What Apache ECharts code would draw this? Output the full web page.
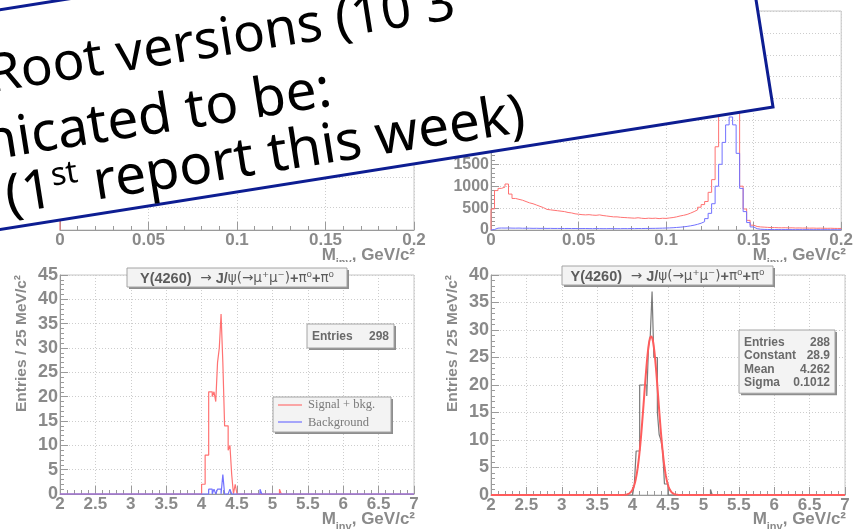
<!DOCTYPE html>
<html>
<head>
<meta charset="utf-8">
<title>Y(4260) → J/ψ π0 π0</title>
<script src="https://cdn.jsdelivr.net/npm/echarts@6.0.0/dist/echarts.min.js"></script>
<style>
  html, body { margin: 0; padding: 0; background: #ffffff; }
  #chart { width: 856px; height: 529px; }
</style>
</head>
<body>
<div id="chart"></div>
<script>
// ---------------- data ----------------
// γγ invariant mass, 2 MeV/c² bins over 0 … 0.2 GeV/c²
const PI0_MIN = 0, PI0_MAX = 0.2, PI0_BIN = 0.002;

// right panel: signal + background (red) and background only (blue)
const pi0SignalBkg = [
  480, 900, 950, 980, 1050, 820, 720, 700, 680, 650,
  620, 600, 570, 540, 510, 470, 460, 450, 440, 430,
  420, 400, 390, 370, 360, 350, 345, 350, 340, 335,
  345, 330, 320, 310, 300, 300, 290, 285, 280, 275,
  270, 280, 268, 262, 270, 265, 270, 260, 268, 265,
  275, 285, 300, 320, 335, 355, 385, 420, 460, 520,
  580, 650, 860, 1150, 1900, 3000, 3700, 4200, 4400, 4150,
  3000, 1000, 480, 220, 110, 80, 70, 65, 60, 55,
  55, 52, 50, 52, 48, 50, 45, 47, 44, 45,
  42, 44, 40, 42, 40, 38, 40, 37, 36, 35
];
const pi0Background = [
  12, 42, 45, 44, 46, 43, 42, 44, 40, 41,
  40, 38, 39, 37, 38, 36, 37, 35, 36, 35,
  34, 35, 33, 34, 32, 33, 34, 32, 31, 33,
  32, 30, 31, 32, 30, 31, 30, 32, 31, 33,
  32, 34, 33, 35, 36, 37, 38, 40, 42, 45,
  48, 52, 58, 64, 72, 82, 95, 110, 130, 155,
  190, 260, 380, 600, 1000, 1500, 2000, 2400, 2580, 2400,
  1750, 950, 420, 170, 70, 30, 18, 14, 12, 11,
  10, 10, 9, 10, 9, 9, 8, 9, 8, 8,
  8, 7, 8, 7, 7, 7, 6, 7, 6, 6
];

// left panel (other version, log scale): first bin only, the rest is empty
const pi0OldEdges  = [0.000];
const pi0OldCounts = [2000000];
const PI0_OLD_LOG_MIN = 0.171, PI0_OLD_LOG_MAX = 3.4e6;

// J/ψ π0 π0 invariant mass, 25 MeV/c² bins over 2 … 7 GeV/c²
const Y_MIN = 2, Y_MAX = 7, Y_BIN = 0.025;

const ySigEdges  = [4.000, 4.025, 4.050, 4.075, 4.100, 4.125, 4.150, 4.175, 4.200, 4.225,
                    4.250, 4.275, 4.300, 4.325, 4.350, 4.375, 4.400, 4.425, 4.475, 5.100];
const ySigCounts = [2, 2, 8, 8, 21, 21, 20, 21, 19, 27,
                    30, 37, 27, 14, 14, 9, 10, 4, 2, 1];

const yBkgEdges  = [4.100, 4.125, 4.175, 4.225, 4.250, 4.300, 4.400, 4.825];
const yBkgCounts = [1, 1, 1, 1, 1, 4, 1, 1];

const yFitEdges  = [4.025, 4.050, 4.075, 4.100, 4.125, 4.150, 4.175, 4.200, 4.225, 4.250,
                    4.275, 4.300, 4.325, 4.350, 4.375, 4.400, 4.425, 4.450, 4.475, 5.100];
const yFitCounts = [2, 8, 8, 20, 20, 20, 20, 18, 27, 29,
                    37, 25, 25, 15, 11, 10, 8, 2, 2, 1];

// Gaussian fit parameters (stats box)
const FIT_CONSTANT = 28.9, FIT_MEAN = 4.262, FIT_SIGMA = 0.1012;

const statsLeft  = [['Entries', '298']];
const statsRight = [['Entries', '288'], ['Constant', '28.9'], ['Mean', '4.262'], ['Sigma', '0.1012']];

const decayTitle = ['Y(4260)', '  → ', 'J/', 'ψ(→μ⁺μ⁻)', '+', 'π⁰', '+', 'π⁰'];
const legendLabels = ['Signal + bkg.', 'Background'];
const slideLines = ['PandaRoot versions (10 3', 'communicated to be:', '(1', 'st', ' report this week)'];

// ---------------- helpers ----------------
function fillBins(min, max, bw, edges, counts, empty) {
  const n = Math.round((max - min) / bw);
  const arr = new Array(n).fill(empty);
  edges.forEach((e, k) => { arr[Math.round((e - min) / bw)] = counts[k]; });
  return arr;
}
// histogram outline: rises from the baseline at the low edge, then one flat step per bin
function stepData(min, bw, arr, base) {
  const pts = [[min, base]];
  arr.forEach((v, i) => pts.push([+(min + i * bw).toFixed(4), v]));
  pts.push([+(min + arr.length * bw).toFixed(4), arr[arr.length - 1]]);
  return pts;
}
function gaussCurve(min, max, step) {
  const pts = [];
  const n = Math.round((max - min) / step);
  for (let i = 0; i <= n; i++) {
    const x = min + i * step;
    const z = (x - FIT_MEAN) / FIT_SIGMA;
    pts.push([+x.toFixed(4), FIT_CONSTANT * Math.exp(-0.5 * z * z)]);
  }
  return pts;
}

// ---------------- styles ----------------
const SANS = 'Liberation Sans, Arial, Helvetica, sans-serif';
const AXIS_GREY = '#9a9a9a';
const TEXT_GREY = '#8a8a8a';
const RED = '#ff7272';
const BLUE = '#7272ff';
const plain = v => String(v);

function xAxis(gridIndex, min, max, interval) {
  return {
    type: 'value', gridIndex, min, max, interval,
    axisLine: { onZero: false, lineStyle: { color: AXIS_GREY, width: 1 } },
    axisTick: { inside: true, length: 8, lineStyle: { color: AXIS_GREY } },
    minorTick: { show: true, splitNumber: 5, length: 4, lineStyle: { color: AXIS_GREY } },
    splitLine: { show: true, lineStyle: { color: '#cdcdcd', type: [1, 2] } },
    axisLabel: { color: TEXT_GREY, fontFamily: SANS, fontWeight: 'bold', fontSize: 17, margin: 2,
                 showMinLabel: true, showMaxLabel: true, formatter: plain }
  };
}
function yAxis(gridIndex, min, max, interval, fontSize, showLabels) {
  return {
    type: 'value', gridIndex, min, max, interval,
    axisLine: { show: true, onZero: false, lineStyle: { color: AXIS_GREY, width: 1 } },
    axisTick: { show: true, inside: true, length: 8, lineStyle: { color: AXIS_GREY } },
    minorTick: { show: true, splitNumber: 5, length: 4, lineStyle: { color: AXIS_GREY } },
    splitLine: { show: true, lineStyle: { color: '#cdcdcd', type: [1, 2] } },
    axisLabel: { show: showLabels, color: TEXT_GREY, fontFamily: SANS, fontWeight: 'bold', fontSize: fontSize, margin: 2,
                 showMinLabel: true, showMaxLabel: true, formatter: plain }
  };
}
function hist(xi, data, color, width, clip) {
  return {
    type: 'line', xAxisIndex: xi, yAxisIndex: xi, data, step: 'end',
    symbol: 'none', clip: clip, animation: false, connectNulls: false,
    lineStyle: { color, width: width || 1 }
  };
}

// ---------------- panels ----------------
const frame = { show: true, borderColor: '#c6c6c6', borderWidth: 1, backgroundColor: 'transparent' };
const grids = [
  Object.assign({ left: 60,  top: 11,  width: 354, height: 219 }, frame),
  Object.assign({ left: 491, top: 11,  width: 354, height: 219 }, frame),
  Object.assign({ left: 60,  top: 275, width: 354, height: 219 }, frame),
  Object.assign({ left: 491, top: 275, width: 354, height: 220 }, frame)
];

const series = [
  hist(0, stepData(PI0_MIN, PI0_BIN, fillBins(PI0_MIN, PI0_MAX, PI0_BIN, pi0OldEdges, pi0OldCounts, null), PI0_OLD_LOG_MIN), RED, 1, true),
  hist(1, stepData(PI0_MIN, PI0_BIN, pi0SignalBkg, 0), RED, 1, true),
  hist(1, stepData(PI0_MIN, PI0_BIN, pi0Background, 0), BLUE, 1, true),
  hist(2, stepData(Y_MIN, Y_BIN, fillBins(Y_MIN, Y_MAX, Y_BIN, ySigEdges, ySigCounts, 0), 0), RED, 1.2, false),
  hist(2, stepData(Y_MIN, Y_BIN, fillBins(Y_MIN, Y_MAX, Y_BIN, yBkgEdges, yBkgCounts, 0), 0), BLUE, 1.2, false),
  hist(3, stepData(Y_MIN, Y_BIN, fillBins(Y_MIN, Y_MAX, Y_BIN, yFitEdges, yFitCounts, 0), 0), '#7a7a7a', 1.2, false),
  {
    type: 'line', xAxisIndex: 3, yAxisIndex: 3, data: gaussCurve(Y_MIN, Y_MAX, 0.005),
    symbol: 'none', clip: false, animation: false, smooth: false,
    lineStyle: { color: '#ff5c5c', width: 2 }, z: 3
  }
];

// ---------------- annotations ----------------
const G = [];
function pave(x, y, w, h, z) {
  G.push({ type: 'rect', z: z, shape: { x: x + 2, y: y + 2, width: w, height: h }, style: { fill: '#8e8e8e' } });
  G.push({ type: 'rect', z: z, shape: { x, y, width: w, height: h }, style: { fill: '#f3f3f3', stroke: '#a4a4a4', lineWidth: 1 } });
}
function titleBox(x, y, w, h) {
  pave(x, y, w, h, 12);
  G.push({
    type: 'text', z: 13, x: x + w / 2, y: y + h / 2 + 1,
    style: {
      text: '{b|' + decayTitle[0] + '}{n|' + decayTitle[1] + '}{b|' + decayTitle[2] + '}{n|' + decayTitle[3] +
            '}{b|' + decayTitle[4] + '}{n|' + decayTitle[5] + '}{b|' + decayTitle[6] + '}{n|' + decayTitle[7] + '}',
      align: 'center', verticalAlign: 'middle',
      rich: {
        b: { fontFamily: SANS, fontWeight: 'bold', fontSize: 14.5, fill: '#5c5c5c' },
        n: { fontFamily: 'DejaVu Sans, ' + SANS, fontSize: 13.5, fill: '#5c5c5c' }
      }
    }
  });
}
function statsBox(x, y, w, rows, lineH) {
  pave(x, y, w, rows.length * lineH + 10, 12);
  rows.forEach((r, i) => {
    const cy = y + 5 + lineH * (i + 0.5) + 1;
    G.push({ type: 'text', z: 13, x: x + 5, y: cy,
      style: { text: r[0], fontFamily: SANS, fontWeight: 'bold', fontSize: 12, fill: '#6a6a6a', verticalAlign: 'middle' } });
    G.push({ type: 'text', z: 13, x: x + w - 5, y: cy,
      style: { text: r[1], fontFamily: SANS, fontWeight: 'bold', fontSize: 12, fill: '#6a6a6a', align: 'right', verticalAlign: 'middle' } });
  });
}
function xTitle(right, cy) {
  G.push({
    type: 'text', z: 8, x: right, y: cy,
    style: {
      text: '{m|M}{s|inv}{m|, GeV/c²}', align: 'right', verticalAlign: 'middle',
      rich: {
        m: { fontFamily: SANS, fontWeight: 'bold', fontSize: 17, fill: TEXT_GREY, lineHeight: 26 },
        s: { fontFamily: SANS, fontWeight: 'bold', fontSize: 11, fill: TEXT_GREY, lineHeight: 26, verticalAlign: 'bottom' }
      }
    }
  });
}
function yTitle(cx, top) {
  G.push({
    type: 'text', z: 8, x: cx, y: top, rotation: Math.PI / 2,
    style: { text: 'Entries / 25 MeV/c²', fontFamily: SANS, fontWeight: 'bold', fontSize: 15.5,
             fill: TEXT_GREY, align: 'right', verticalAlign: 'middle' }
  });
}

xTitle(415, 255);
xTitle(846, 255);
// lower canvases overlap the upper axis titles
G.push({ type: 'rect', z: 9, shape: { x: 290, y: 262, width: 140, height: 12 }, style: { fill: '#ffffff' } });
G.push({ type: 'rect', z: 9, shape: { x: 720, y: 262, width: 136, height: 12 }, style: { fill: '#ffffff' } });

xTitle(415, 519);
xTitle(846, 519);
yTitle(22, 275);
yTitle(453, 275);

titleBox(127, 268, 220, 19);
titleBox(562, 266, 211, 19);
statsBox(307, 324, 87, statsLeft, 14);
statsBox(739, 330, 96, statsRight, 13.3);

// legend of the lower-left panel
pave(273, 397, 118, 35, 12);
G.push({ type: 'line', z: 13, shape: { x1: 278, y1: 405, x2: 302, y2: 405 }, style: { stroke: RED, lineWidth: 1.2 } });
G.push({ type: 'line', z: 13, shape: { x1: 278, y1: 422, x2: 302, y2: 422 }, style: { stroke: BLUE, lineWidth: 1.2 } });
legendLabels.forEach((t, i) => {
  G.push({ type: 'text', z: 13, x: 308, y: i ? 423 : 405,
    style: { text: t, fontFamily: 'Liberation Serif, Times New Roman, serif', fontSize: 12.5, fill: '#7a7a7a', verticalAlign: 'middle' } });
});

// tilted slide note on top of the upper plots
const tilt = 9 * Math.PI / 180;
const NOTE_FONT = 'Noto Sans, DejaVu Sans, sans-serif';
G.push({
  type: 'group', x: 773, y: 107, rotation: tilt, z: 100,
  children: [
    { type: 'rect', z: 100, shape: { x: -1300, y: -217, width: 1300, height: 217 },
      style: { fill: '#ffffff', stroke: '#0d1d92', lineWidth: 3 } },
    { type: 'text', z: 101, x: -298, y: -152,
      style: { text: slideLines[0], fontFamily: NOTE_FONT, fontSize: 53, fill: '#000', align: 'right', verticalAlign: 'middle' } },
    { type: 'text', z: 101, x: -434, y: -86,
      style: { text: slideLines[1], fontFamily: NOTE_FONT, fontSize: 55, fill: '#000', align: 'right', verticalAlign: 'middle' } },
    { type: 'text', z: 101, x: -772, y: -30,
      style: {
        text: '{a|' + slideLines[2] + '}{b|' + slideLines[3] + '}{a|' + slideLines[4] + '}',
        align: 'left', verticalAlign: 'middle',
        rich: {
          a: { fontFamily: NOTE_FONT, fontSize: 55, fill: '#000', lineHeight: 60 },
          b: { fontFamily: NOTE_FONT, fontSize: 32, fill: '#000', lineHeight: 60, verticalAlign: 'top' }
        }
      } }
  ]
});

// ---------------- chart ----------------
const logYAxis = {
  type: 'log', logBase: 10, gridIndex: 0, min: PI0_OLD_LOG_MIN, max: PI0_OLD_LOG_MAX,
  axisLine: { show: true, onZero: false, lineStyle: { color: AXIS_GREY, width: 1 } },
  axisTick: { show: true, inside: true, length: 8, lineStyle: { color: AXIS_GREY } },
  splitLine: { show: true, lineStyle: { color: '#cdcdcd', type: [1, 2] } },
  axisLabel: { show: false }
};

const chart = echarts.init(document.getElementById('chart'), null, { renderer: 'canvas' });
chart.setOption({
  animation: false,
  backgroundColor: '#ffffff',
  grid: grids,
  xAxis: [
    xAxis(0, PI0_MIN, PI0_MAX, 0.05),
    xAxis(1, PI0_MIN, PI0_MAX, 0.05),
    xAxis(2, Y_MIN, Y_MAX, 0.5),
    xAxis(3, Y_MIN, Y_MAX, 0.5)
  ],
  yAxis: [
    logYAxis,
    yAxis(1, 0, 5000, 500, 16, true),
    yAxis(2, 0, 45, 5, 18, true),
    yAxis(3, 0, 40, 5, 18, true)
  ],
  series: series,
  graphic: G
});
</script>
</body>
</html>
